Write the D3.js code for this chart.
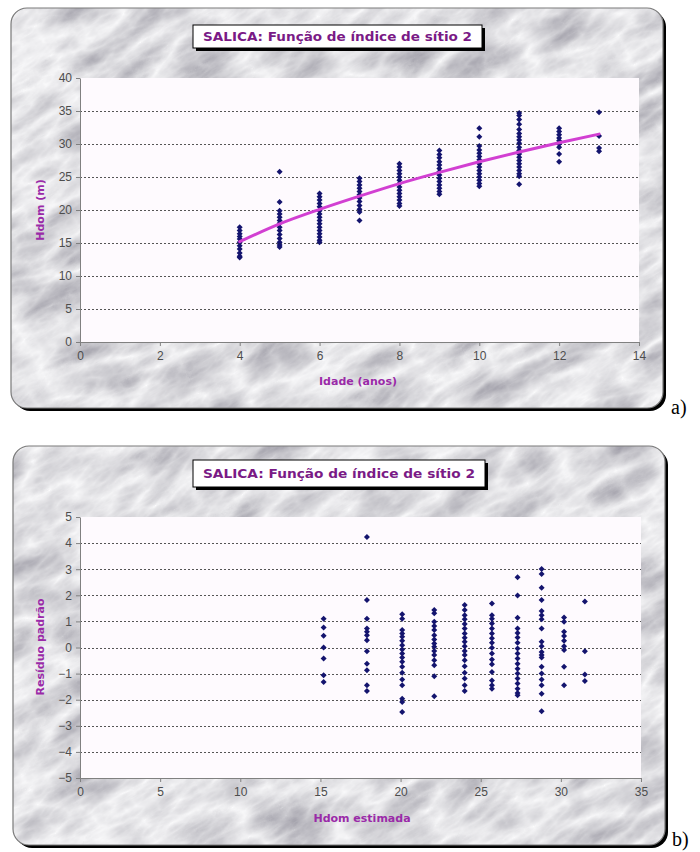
<!DOCTYPE html>
<html>
<head>
<meta charset="utf-8">
<script src="https://cdn.jsdelivr.net/npm/d3@7"></script>
<style>
  html, body { margin: 0; padding: 0; background: #ffffff; }
  svg { display: block; }
</style>
</head>
<body>
<svg id="chart" width="700" height="852"></svg>
<script>
// ---------- DATA ----------
const chartTitle = "SALICA: Função de índice de sítio 2";

// Panel a) Hdom observed by age
const ages = [4, 5, 6, 7, 8, 9, 10, 11, 12, 13];
const hdomFit = [15.2, 17.9, 20.1, 22.1, 24.0, 25.7, 27.3, 28.8, 30.2, 31.5];
const hdomAge4  = [17.4, 16.9, 16.4, 16.0, 15.6, 15.1, 14.6, 14.1, 13.5, 13.0, 12.8];
const hdomAge5  = [25.8, 21.2, 19.9, 19.4, 18.9, 18.4, 18.0, 17.4, 16.9, 16.3, 15.7, 15.1, 14.7, 14.4];
const hdomAge6  = [22.5, 22.0, 21.5, 21.0, 20.5, 19.9, 19.4, 18.9, 18.4, 17.9, 17.4, 16.9, 16.4, 15.9, 15.4, 15.1];
const hdomAge7  = [24.8, 24.3, 23.8, 23.3, 22.8, 22.3, 21.8, 21.3, 20.7, 20.1, 19.7, 18.4];
const hdomAge8  = [27.0, 26.5, 26.0, 25.5, 25.0, 24.5, 24.0, 23.5, 23.0, 22.5, 22.0, 21.5, 21.0, 20.6];
const hdomAge9  = [29.0, 28.4, 27.9, 27.3, 26.8, 26.3, 25.8, 25.3, 24.8, 24.3, 23.8, 23.3, 22.8, 22.4];
const hdomAge10 = [32.4, 31.1, 29.7, 29.1, 28.6, 28.1, 27.6, 27.0, 26.5, 26.0, 25.5, 25.0, 24.5, 24.0, 23.6];
const hdomAge11 = [34.7, 34.3, 33.7, 33.0, 32.2, 31.6, 31.1, 30.6, 30.1, 29.5, 29.0, 28.5, 28.0, 27.5, 27.0, 26.5, 26.0, 25.5, 25.1, 23.9];
const hdomAge12 = [32.4, 31.9, 31.4, 30.9, 30.5, 30.0, 29.5, 28.5, 27.3];
const hdomAge13 = [34.8, 31.2, 29.4, 28.9];
const hdomObs = [hdomAge4, hdomAge5, hdomAge6, hdomAge7, hdomAge8, hdomAge9, hdomAge10, hdomAge11, hdomAge12, hdomAge13];

// Panel b) standardised residuals by estimated Hdom (one column per age)
const hdomEst = [15.2, 17.9, 20.1, 22.1, 24.0, 25.7, 27.3, 28.8, 30.2, 31.5];
const resid1  = [1.1, 0.77, 0.45, 0.0, -0.42, -1.06, -1.32];
const resid2  = [4.23, 1.82, 1.1, 0.73, 0.6, 0.47, 0.28, -0.14, -0.62, -0.87, -1.45, -1.67];
const resid3  = [1.27, 1.1, 0.67, 0.54, 0.41, 0.26, 0.09, -0.08, -0.23, -0.38, -0.55, -0.74, -0.97, -1.23, -1.45, -1.96, -2.09, -2.47];
const resid4  = [1.44, 1.31, 0.99, 0.82, 0.67, 0.47, 0.31, 0.15, 0.03, -0.13, -0.29, -0.49, -0.68, -1.1, -1.87];
const resid5  = [1.63, 1.44, 1.24, 1.08, 0.9, 0.73, 0.54, 0.37, 0.22, 0.05, -0.13, -0.29, -0.49, -0.72, -0.97, -1.19, -1.45, -1.67];
const resid6  = [1.69, 1.24, 1.1, 0.92, 0.73, 0.54, 0.35, 0.18, -0.01, -0.23, -0.46, -0.64, -0.94, -1.26, -1.45, -1.58];
const resid7  = [2.69, 1.99, 1.14, 0.73, 0.56, 0.38, 0.18, -0.04, -0.23, -0.42, -0.62, -0.81, -1.0, -1.19, -1.38, -1.58, -1.74, -1.83];
const resid8  = [3.01, 2.82, 2.29, 1.82, 1.4, 1.24, 1.08, 0.73, 0.22, 0.05, -0.17, -0.29, -0.38, -0.74, -1.0, -1.23, -1.45, -1.77, -2.44];
const resid9  = [1.15, 0.99, 0.6, 0.44, 0.26, 0.05, -0.1, -0.74, -1.45];
const resid10 = [1.76, -0.14, -1.03, -1.28];
const residuals = [resid1, resid2, resid3, resid4, resid5, resid6, resid7, resid8, resid9, resid10];

// Tick values
const xTicksA = [0, 2, 4, 6, 8, 10, 12, 14];
const yTicksA = [0, 5, 10, 15, 20, 25, 30, 35, 40];
const xTicksB = [0, 5, 10, 15, 20, 25, 30, 35];
const yTicksB = [-5, -4, -3, -2, -1, 0, 1, 2, 3, 4, 5];

// ---------- DRAW ----------
const svg = d3.select("#chart");
const defs = svg.append("defs");

const filt = defs.append("filter").attr("id", "marble")
  .attr("x", 0).attr("y", 0).attr("width", 1).attr("height", 1);
filt.append("feTurbulence").attr("type", "turbulence")
  .attr("baseFrequency", "0.012 0.03").attr("numOctaves", 5).attr("seed", 4).attr("result", "t");
filt.append("feColorMatrix").attr("in", "t").attr("type", "matrix")
  .attr("values", "-0.74 0 0 0 0.965  -0.75 0 0 0 0.965  -0.7 0 0 0 0.975  0 0 0 0 1");

const purpleTitle = "#7a1a86";
const purpleAxis = "#9a2aa8";
const markerColor = "#14146e";

function panel(cfg) {
  const g = svg.append("g");
  const fr = cfg.frame;
  // shadow
  g.append("rect").attr("x", fr.x + 3).attr("y", fr.y + 3).attr("width", fr.w).attr("height", fr.h)
    .attr("rx", 16).attr("fill", "#000");
  // marble
  const clipId = "clip" + cfg.id;
  defs.append("clipPath").attr("id", clipId).append("rect")
    .attr("x", fr.x).attr("y", fr.y).attr("width", fr.w).attr("height", fr.h).attr("rx", 16);
  const mg = g.append("g").attr("clip-path", `url(#${clipId})`);
  mg.append("rect").attr("x", fr.x).attr("y", fr.y).attr("width", fr.w).attr("height", fr.h).attr("fill", "#dcdcdf");
  mg.append("rect")
    .attr("x", fr.x - 300).attr("y", fr.y - 300).attr("width", fr.w + 600).attr("height", fr.h + 600)
    .attr("fill", "#ccc").attr("filter", "url(#marble)")
    .attr("transform", `rotate(-30 ${fr.x + fr.w / 2} ${fr.y + fr.h / 2})`);
  g.append("rect").attr("x", fr.x).attr("y", fr.y).attr("width", fr.w).attr("height", fr.h)
    .attr("rx", 16).attr("fill", "none").attr("stroke", "#7a7a7a").attr("stroke-width", 1.2);

  // title box
  const tb = cfg.titleBox;
  g.append("rect").attr("x", tb.x + 3).attr("y", tb.y + 3).attr("width", tb.w).attr("height", tb.h).attr("fill", "#000");
  g.append("rect").attr("x", tb.x).attr("y", tb.y).attr("width", tb.w).attr("height", tb.h)
    .attr("fill", "#fff").attr("stroke", "#000").attr("stroke-width", 1);
  g.append("text").attr("x", tb.x + tb.w / 2).attr("y", tb.y + tb.h / 2 + 4.5)
    .attr("text-anchor", "middle").attr("font-family", "DejaVu Sans, sans-serif")
    .attr("font-size", 12.5).attr("font-weight", "bold").attr("fill", purpleTitle)
    .attr("textLength", tb.w - 20).attr("lengthAdjust", "spacingAndGlyphs")
    .text(chartTitle);

  // plot area
  const p = cfg.plot;
  const x = d3.scaleLinear().domain(cfg.xDomain).range([p.left, p.right]);
  const y = d3.scaleLinear().domain(cfg.yDomain).range([p.bottom, p.top]);
  g.append("rect").attr("x", p.left).attr("y", p.top).attr("width", p.right - p.left).attr("height", p.bottom - p.top)
    .attr("fill", "#fefafe");

  // gridlines
  g.append("g").selectAll("line")
    .data(cfg.yTicks.filter(v => v !== cfg.yDomain[0] && v !== cfg.yDomain[1]))
    .join("line")
    .attr("x1", p.left).attr("x2", p.right)
    .attr("y1", d => Math.round(y(d)) + 0.5).attr("y2", d => Math.round(y(d)) + 0.5)
    .attr("stroke", "#555").attr("stroke-width", 1).attr("stroke-dasharray", "2,2");

  // axes
  const xAxis = d3.axisBottom(x).tickValues(cfg.xTicks).tickSize(4).tickSizeOuter(0).tickFormat(d3.format("d"));
  const yAxis = d3.axisLeft(y).tickValues(cfg.yTicks).tickSize(4).tickSizeOuter(0).tickFormat(d3.format("d"));
  const gx = g.append("g").attr("transform", `translate(0,${p.bottom})`).call(xAxis);
  const gy = g.append("g").attr("transform", `translate(${p.left},0)`).call(yAxis);
  [gx, gy].forEach(ax => {
    ax.select(".domain").attr("stroke", "#808080");
    ax.selectAll(".tick line").attr("stroke", "#808080");
    ax.selectAll(".tick text").attr("fill", "#4d4d4d")
      .attr("font-family", "Liberation Sans, Arial, sans-serif").attr("font-size", 12);
  });
  gx.selectAll(".tick text").attr("dy", "0.71em").attr("y", 9);
  gy.selectAll(".tick text").attr("x", -8);

  // axis titles
  g.append("text").attr("x", cfg.xTitlePos[0]).attr("y", cfg.xTitlePos[1])
    .attr("text-anchor", "middle").attr("font-family", "DejaVu Sans, sans-serif")
    .attr("font-size", 11).attr("font-weight", "bold").attr("fill", purpleAxis)
    .text(cfg.xTitle);
  g.append("text").attr("transform", `translate(${cfg.yTitlePos[0]},${cfg.yTitlePos[1]}) rotate(-90)`)
    .attr("text-anchor", "middle").attr("font-family", "DejaVu Sans, sans-serif")
    .attr("font-size", 11).attr("font-weight", "bold").attr("fill", purpleAxis)
    .text(cfg.yTitle);

  // panel letter
  svg.append("text").attr("x", cfg.letterPos[0]).attr("y", cfg.letterPos[1])
    .attr("font-family", "Liberation Serif, Times New Roman, serif").attr("font-size", 20).attr("fill", "#000")
    .text(cfg.letter);

  return { g, x, y };
}

const A = panel({
  id: "A",
  frame: { x: 11, y: 8, w: 652, h: 400 },
  titleBox: { x: 193, y: 25, w: 289, h: 23 },
  plot: { left: 80, right: 639, top: 78, bottom: 342 },
  xDomain: [0, 14], yDomain: [0, 40],
  xTicks: xTicksA, yTicks: yTicksA,
  xTitle: "Idade (anos)", xTitlePos: [358, 385],
  yTitle: "Hdom (m)", yTitlePos: [44, 210],
  letter: "a)", letterPos: [671, 414]
});

const B = panel({
  id: "B",
  frame: { x: 13, y: 446, w: 652, h: 399 },
  titleBox: { x: 193, y: 460, w: 292, h: 27 },
  plot: { left: 80, right: 641, top: 517, bottom: 778 },
  xDomain: [0, 35], yDomain: [-5, 5],
  xTicks: xTicksB, yTicks: yTicksB,
  xTitle: "Hdom estimada", xTitlePos: [362, 822],
  yTitle: "Resíduo padrão", yTitlePos: [44, 647],
  letter: "b)", letterPos: [672, 846]
});

const marker = d3.symbol().type(d3.symbolSquare).size(18);

// Panel a points
const ptsA = [];
ages.forEach((a, i) => hdomObs[i].forEach(v => ptsA.push({ x: a, y: v })));
A.g.append("g").selectAll("path").data(ptsA).join("path")
  .attr("d", marker)
  .attr("transform", d => `translate(${A.x(d.x)},${A.y(d.y)}) rotate(45)`)
  .attr("fill", markerColor);

// fitted curve
const fitLine = d3.line().x((d, i) => A.x(ages[i])).y(d => A.y(d)).curve(d3.curveMonotoneX);
A.g.append("path").datum(hdomFit).attr("d", fitLine)
  .attr("fill", "none").attr("stroke", "#d23fd2").attr("stroke-width", 3).attr("stroke-linecap", "round");

// Panel b points
const ptsB = [];
hdomEst.forEach((h, i) => residuals[i].forEach(v => ptsB.push({ x: h, y: v })));
B.g.append("g").selectAll("path").data(ptsB).join("path")
  .attr("d", marker)
  .attr("transform", d => `translate(${B.x(d.x)},${B.y(d.y)}) rotate(45)`)
  .attr("fill", markerColor);
</script>
</body>
</html>
